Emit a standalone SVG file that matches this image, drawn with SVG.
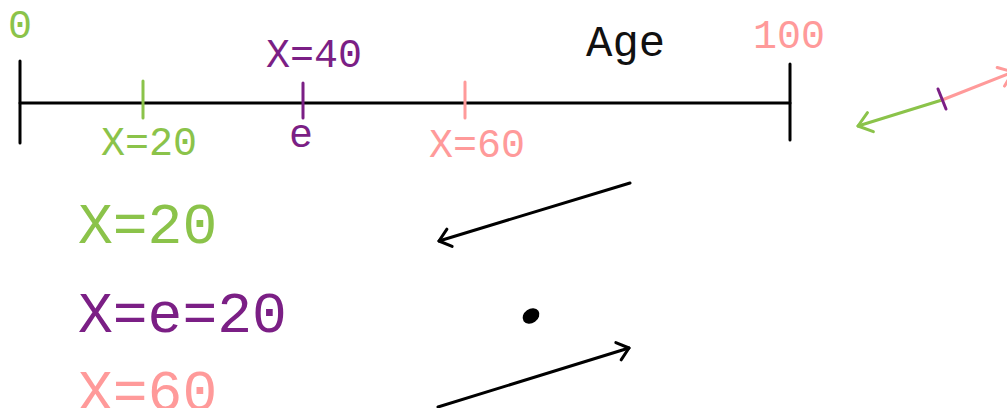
<svg xmlns="http://www.w3.org/2000/svg" width="1007" height="408" viewBox="0 0 1007 408">
<style>
text{font-family:"Liberation Mono","DejaVu Sans Mono",monospace;}
.s{font-size:40px;}
.b{font-size:58px;}
.g{fill:#8bc34a;}
.p{fill:#7b1f85;}
.r{fill:#ff9a9a;}
.k{fill:#111;}
.ln{fill:none;stroke-width:3;stroke-linecap:round;stroke-linejoin:round;}
</style>
<defs>
<marker id="ak" markerUnits="userSpaceOnUse" markerWidth="30" markerHeight="30" refX="0" refY="0" viewBox="-15 -15 30 30" orient="auto" overflow="visible">
<path d="M -11 -9 L 0 0 L -11 9" fill="none" stroke="#000" stroke-width="3" stroke-linecap="round" stroke-linejoin="round"/>
</marker>
<marker id="ag" markerUnits="userSpaceOnUse" markerWidth="30" markerHeight="30" refX="0" refY="0" viewBox="-15 -15 30 30" orient="auto" overflow="visible">
<path d="M -13 -10 L 0 0 L -13 10" fill="none" stroke="#8bc34a" stroke-width="3" stroke-linecap="round" stroke-linejoin="round"/>
</marker>
<marker id="ar" markerUnits="userSpaceOnUse" markerWidth="30" markerHeight="30" refX="0" refY="0" viewBox="-15 -15 30 30" orient="auto" overflow="visible">
<path d="M -13 -10 L 0 0 L -13 10" fill="none" stroke="#ff9a9a" stroke-width="3" stroke-linecap="round" stroke-linejoin="round"/>
</marker>
</defs>
<g id="axis">
<line class="ln" x1="20" y1="103" x2="790" y2="103" stroke="#000"/>
<line class="ln" x1="20" y1="61" x2="20" y2="143" stroke="#000"/>
<line class="ln" x1="790" y1="64" x2="790" y2="140" stroke="#000"/>
<line class="ln" x1="143" y1="81" x2="143" y2="118" stroke="#8bc34a"/>
<line class="ln" x1="303" y1="83" x2="303" y2="118" stroke="#7b1f85"/>
<line class="ln" x1="465" y1="82" x2="465" y2="118" stroke="#ff9a9a"/>
<text class="s g" x="8" y="38">0</text>
<text class="s r" x="753" y="48">100</text>
<text class="s k" x="586" y="56" style="font-size:44px">Age</text>
<text class="s g" x="101" y="155">X=20</text>
<text class="s p" x="266" y="67">X=40</text>
<text class="s p" x="289" y="147">e</text>
<text class="s r" x="429" y="157">X=60</text>
</g>
<g id="labels">
<text class="b g" x="78" y="243">X=20</text>
<text class="b p" x="78" y="332">X=e=20</text>
<text class="b r" x="78" y="410">X=60</text>
</g>
<g id="center-dot">
<ellipse cx="531" cy="316" rx="9" ry="7" transform="rotate(-35 531 316)" fill="#000"/>
</g>
<g id="connectors">
<line class="ln" x1="630" y1="183" x2="439" y2="241" stroke="#000" marker-end="url(#ak)"/>
<line class="ln" x1="438" y1="407" x2="629" y2="348" stroke="#000" marker-end="url(#ak)"/>
<line class="ln" x1="942" y1="100" x2="858" y2="126" stroke="#8bc34a" marker-end="url(#ag)"/>
<line class="ln" x1="942" y1="100" x2="1013" y2="72" stroke="#ff9a9a" marker-end="url(#ar)"/>
<line class="ln" x1="938" y1="89" x2="946" y2="109" stroke="#7b1f85"/>
</g>
</svg>
